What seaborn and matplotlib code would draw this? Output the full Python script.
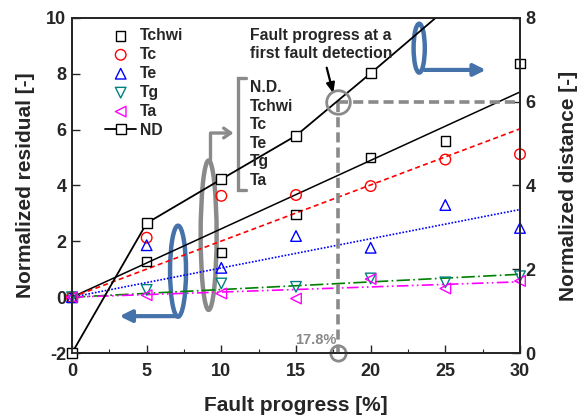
import matplotlib
matplotlib.use("Agg")
import matplotlib.pyplot as plt
import numpy as np
import pandas as pd
import seaborn as sns
from matplotlib.patches import Ellipse, Rectangle
from matplotlib.ticker import MultipleLocator


# fault progress [%] at which each residual was measured
progress = [0, 5, 10, 15, 20, 25, 30]

# normalized residuals (left axis)
tchwi = [0.0, 1.27, 1.60, 2.96, 5.01, 5.59, 8.37]
tc = [0.0, 2.13, 3.63, 3.66, 3.98, 4.93, 5.12]
te = [0.0, 1.86, 1.05, 2.19, 1.77, 3.30, 2.48]
tg = [0.0, 0.26, 0.49, 0.37, 0.67, 0.53, 0.75]
ta = [0.0, 0.07, 0.13, -0.05, 0.65, 0.31, 0.58]

# normalized distance (right axis), last two run off the top of the chart
nd = [0.0, 3.10, 4.15, 5.19, 6.68, 8.20, 9.70]

# trend lines through the residuals
fit_x = [0, 30]
fit_tchwi = [0.0, 7.35]
fit_tc = [0.0, 6.03]
fit_te = [0.0, 3.14]
fit_tg = [0.0, 0.82]
fit_ta = [0.0, 0.55]

# first detection point
detect_progress = 17.8
detect_distance = 6.0
detect_label = "17.8%"

bracket_labels = ["N.D.", "Tchwi", "Tc", "Te", "Tg", "Ta"]

sns.set_style("ticks")
plt.rcParams["font.family"] = ["Liberation Sans", "DejaVu Sans"]
plt.rcParams["font.weight"] = "bold"
plt.rcParams["axes.labelweight"] = "bold"
plt.rcParams["axes.unicode_minus"] = False

GRAY = "#8a8a8a"
BLUE = "#4672aa"

fig = plt.figure(figsize=(5.87, 4.19), dpi=100)
ax = fig.add_axes([72 / 587, 66 / 419, 448 / 587, 335 / 419])
ax2 = ax.twinx()

# trend lines
sns.lineplot(x=fit_x, y=fit_tchwi, ax=ax, color="black", lw=1.1)
sns.lineplot(x=fit_x, y=fit_tc, ax=ax, color="red", lw=1.2, linestyle=(0, (3, 2)))
sns.lineplot(x=fit_x, y=fit_te, ax=ax, color="blue", lw=1.2, linestyle=(0, (1, 1)))
sns.lineplot(x=fit_x, y=fit_tg, ax=ax, color="green", lw=1.2, linestyle=(0, (8, 2, 1, 2)))
sns.lineplot(x=fit_x, y=fit_ta, ax=ax, color="magenta", lw=1.2,
             linestyle=(0, (7, 2, 1, 2, 1, 2)))

# residual markers
series = [
    ("Tchwi", tchwi, "s", "black", 45),
    ("Tc", tc, "o", "red", 58),
    ("Te", te, "^", "blue", 58),
    ("Tg", tg, "v", "#008080", 58),
    ("Ta", ta, "<", "magenta", 58),
]
for name, vals, mk, col, size in series:
    sns.scatterplot(x=progress, y=vals, ax=ax, marker=mk, s=size, facecolor="none",
                    edgecolor=col, linewidth=1.0, label=name, clip_on=False, zorder=5)

# normalized distance
sns.lineplot(x=progress, y=nd, ax=ax2, color="black", lw=1.3, marker="s",
             markersize=7.2, markerfacecolor="white", markeredgecolor="black",
             markeredgewidth=1.0, label="ND")
nd_line = ax2.get_lines()[-1]
nd_line.set_clip_path(Rectangle((-0.05, -0.05), 1.1, 1.05, transform=ax2.transAxes))

# axes
ax.set_xlim(0, 30)
ax.set_ylim(-2, 10)
ax2.set_ylim(0, 8)
ax.xaxis.set_major_locator(MultipleLocator(5))
ax.xaxis.set_minor_locator(MultipleLocator(2.5))
ax.yaxis.set_major_locator(MultipleLocator(2))
ax2.yaxis.set_major_locator(MultipleLocator(2))
ax.tick_params(axis="x", which="both", direction="in", top=False, labelsize=13, pad=7)
ax.tick_params(axis="x", which="major", length=6, width=1.0)
ax.tick_params(axis="x", which="minor", length=3, width=0.8)
ax.tick_params(axis="y", direction="in", length=6, width=1.0, labelsize=13, pad=4, right=False)
ax2.tick_params(axis="y", direction="in", length=6, width=1.0, labelsize=13, pad=4)
for a in (ax, ax2):
    for sp in a.spines.values():
        sp.set_linewidth(1.3)
        sp.set_visible(True)

ax.set_xlabel("Fault progress [%]", fontsize=15, labelpad=12)
ax.set_ylabel("Normalized residual [-]", fontsize=15, labelpad=8)
ax2.set_ylabel("Normalized distance [-]", fontsize=15, labelpad=17)

# legend
h1, l1 = ax.get_legend_handles_labels()
h2, l2 = ax2.get_legend_handles_labels()
if ax.get_legend() is not None:
    ax.get_legend().remove()
if ax2.get_legend() is not None:
    ax2.get_legend().remove()
leg = ax2.legend(h1 + h2, l1 + l2, loc="upper left", bbox_to_anchor=(94 / 587, 1 - 17 / 419),
                 bbox_transform=fig.transFigure, frameon=False, fontsize=11.3,
                 handlelength=2.0, handletextpad=0.25, labelspacing=0.25, borderpad=0.2)

# first detection markers
ax2.plot([detect_progress, 30], [detect_distance, detect_distance], color=GRAY, lw=2.6,
         linestyle=(0, (2.8, 1.4)), zorder=1)
ax2.plot([detect_progress, detect_progress], [detect_distance, 0], color=GRAY, lw=2.6,
         linestyle=(0, (2.8, 1.4)), zorder=1)
ax2.plot([detect_progress], [detect_distance], marker="o", ms=17, mfc="none", mec=GRAY, mew=2)
ax2.plot([detect_progress], [0], marker="o", ms=11, mfc="none", mec=GRAY, mew=2, clip_on=False)
ax2.text(detect_progress - 0.1, 0.3, detect_label, color=GRAY, fontsize=10.5, ha="right",
         va="center", fontweight="bold")

fig.text(250 / 587, 1 - 28 / 419, "Fault progress at a\nfirst fault detection", fontsize=11.3,
         fontweight="bold", va="top", ha="left", linespacing=1.27)
ax.annotate("", xy=(334 / 587, 1 - 96 / 419), xytext=(326 / 587, 1 - 65 / 419),
            xycoords="figure fraction", textcoords="figure fraction",
            arrowprops=dict(arrowstyle="-|>,head_length=0.6,head_width=0.25", color="black", lw=1.6))

fig.text(250 / 587, 1 - 80 / 419, "\n".join(bracket_labels), fontsize=11.3, fontweight="bold",
         va="top", ha="left", linespacing=1.3)

# gray bracket and arrow from the grey ellipse
ax.plot([11.65, 11.1, 11.1, 11.65], [7.85, 7.85, 3.84, 3.84], color=GRAY, lw=2.4,
        solid_joinstyle="miter")
ax.add_patch(Ellipse((9.15, 2.22), 1.07, 5.35, fill=False, ec=GRAY, lw=3.2))
ax.plot([9.25, 9.25], [4.9, 5.88], color=GRAY, lw=2.4)
ax.annotate("", xy=(11.0, 5.88), xytext=(9.1, 5.88),
            arrowprops=dict(arrowstyle="->,head_length=0.5,head_width=0.35", color=GRAY, lw=2.4))

# blue ellipses with arrows to their axes
ax.add_patch(Ellipse((7.1, 0.93), 1.07, 3.26, fill=False, ec=BLUE, lw=3.2))
ax.annotate("", xy=(3.0, -0.68), xytext=(7.3, -0.68),
            arrowprops=dict(arrowstyle="-|>,head_length=0.7,head_width=0.35", color=BLUE, lw=3.0))
ax.add_patch(Ellipse((23.25, 8.92), 0.75, 1.75, fill=False, ec=BLUE, lw=3.2))
ax.annotate("", xy=(27.9, 8.14), xytext=(23.4, 8.14),
            arrowprops=dict(arrowstyle="-|>,head_length=0.7,head_width=0.35", color=BLUE, lw=3.0))

fig.savefig("out.png", dpi=100)
plt.close(fig)
